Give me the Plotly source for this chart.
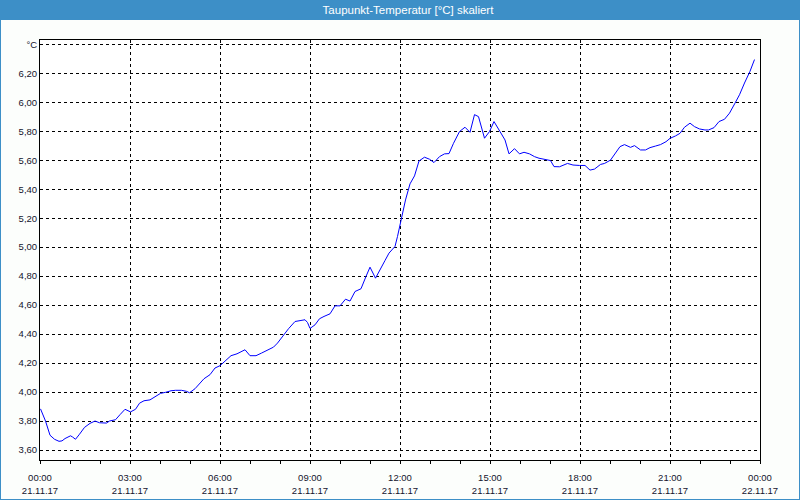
import plotly.graph_objects as go

# ---- data ----
times = ["00:01","00:11","00:20","00:29","00:38","00:44","00:50","01:01","01:05","01:11",
         "01:19","01:29","01:40","01:50","01:59","02:13","02:19","02:31","02:40","02:50",
         "03:01","03:11","03:19","03:28","03:40","03:49","04:01","04:11","04:22","04:31",
         "04:43","04:53","04:59","05:10","05:19","05:28","05:40","05:50","06:00","06:10",
         "06:22","06:34","06:43","06:50","07:00","07:12","07:23","07:34","07:47","07:55",
         "08:07","08:17","08:30","08:40","08:50","08:55","09:00","09:10","09:19","09:28",
         "09:40","09:50","10:00","10:11","10:20","10:30","10:42","10:52","11:00","11:11",
         "11:20","11:30","11:38","11:50","11:55","12:00","12:05","12:11","12:20","12:29",
         "12:38","12:49","12:59","13:08","13:19","13:29","13:38","13:47","13:59","14:10",
         "14:20","14:29","14:37","14:49","14:59","15:08","15:20","15:30","15:38","15:49",
         "15:59","16:08","16:19","16:29","16:38","16:52","17:01","17:08","17:19","17:35",
         "17:46","17:59","18:10","18:20","18:29","18:41","18:49","19:01","19:11","19:20",
         "19:29","19:41","19:49","20:01","20:11","20:20","20:31","20:41","20:52","21:00",
         "21:11","21:20","21:29","21:40","21:49","21:59","22:10","22:17","22:28","22:38",
         "22:49","22:59","23:10","23:19","23:29","23:40","23:49"]
values = [3.884,3.800,3.702,3.674,3.660,3.663,3.679,3.698,3.690,3.674,
          3.709,3.756,3.784,3.800,3.788,3.786,3.800,3.809,3.844,3.881,
          3.863,3.881,3.923,3.940,3.946,3.965,3.991,3.998,4.009,4.012,
          4.012,4.005,3.995,4.023,4.060,4.092,4.120,4.166,4.182,4.211,
          4.251,4.264,4.280,4.292,4.251,4.251,4.269,4.287,4.310,4.338,
          4.395,4.437,4.487,4.494,4.499,4.480,4.439,4.464,4.506,4.522,
          4.540,4.595,4.595,4.641,4.628,4.694,4.713,4.798,4.862,4.786,
          4.848,4.908,4.959,5.005,5.074,5.154,5.234,5.326,5.437,5.492,
          5.595,5.621,5.607,5.584,5.625,5.644,5.646,5.717,5.798,5.828,
          5.793,5.915,5.901,5.752,5.798,5.867,5.798,5.740,5.644,5.680,
          5.644,5.655,5.644,5.625,5.614,5.607,5.598,5.556,5.555,5.578,
          5.567,5.564,5.564,5.532,5.539,5.571,5.578,5.601,5.654,5.694,
          5.708,5.689,5.701,5.671,5.671,5.687,5.698,5.708,5.728,5.751,
          5.768,5.786,5.828,5.856,5.832,5.816,5.809,5.809,5.825,5.867,
          5.883,5.925,5.994,6.052,6.133,6.214,6.295]
day = "2017-11-21"
x_tick_vals = ["2017-11-21 00:00","2017-11-21 03:00","2017-11-21 06:00","2017-11-21 09:00",
               "2017-11-21 12:00","2017-11-21 15:00","2017-11-21 18:00","2017-11-21 21:00",
               "2017-11-22 00:00"]
x_tick_time = ["00:00","03:00","06:00","09:00","12:00","15:00","18:00","21:00","00:00"]
x_tick_date = ["21.11.17"]*8 + ["22.11.17"]
y_tick_vals = [3.6,3.8,4.0,4.2,4.4,4.6,4.8,5.0,5.2,5.4,5.6,5.8,6.0,6.2,6.4]
y_tick_text = ["3,60","3,80","4,00","4,20","4,40","4,60","4,80","5,00","5,20","5,40",
               "5,60","5,80","6,00","6,20","°C"]
title = "Taupunkt-Temperatur [°C] skaliert"

W, H = 800, 500
ML, MR, MT, MB = 40, 40, 40, 40
PW, PH = W - ML - MR, H - MT - MB
BLUE = "#3d8fc7"
TXT = "#14142e"
FONT = "Liberation Sans"

x = [f"{day} {t}" for t in times]

fig = go.Figure()
fig.add_trace(go.Scatter(x=x, y=values, mode="lines",
                         line=dict(color="#0000ff", width=1), xaxis="x", yaxis="y",
                         showlegend=False, hoverinfo="skip"))
# invisible trace for date-label axis
fig.add_trace(go.Scatter(x=[x_tick_vals[0], x_tick_vals[-1]], y=[4, 4], mode="lines",
                         line=dict(width=0), xaxis="x2", yaxis="y",
                         showlegend=False, hoverinfo="skip"))

xr = [x_tick_vals[0], x_tick_vals[-1]]
fig.update_layout(
    width=W, height=H,
    margin=dict(l=ML, r=MR, t=MT, b=MB, autoexpand=False),
    paper_bgcolor="#fcfefc", plot_bgcolor="white",
    font=dict(family=FONT, size=9.5, color=TXT),
    title=dict(text=title, x=408/W, xref="container", xanchor="center",
               y=1 - 10/H, yref="container", yanchor="middle",
               font=dict(family=FONT, size=11.5, color="white")),
    xaxis=dict(type="date", range=xr, tickvals=x_tick_vals, ticktext=x_tick_time,
               showgrid=True, gridcolor="black", griddash="3px,3px", gridwidth=1,
               showline=True, mirror=True, linecolor="black", linewidth=1,
               ticks="outside", ticklen=3, tickcolor="black", ticklabelstandoff=6,
               automargin=False,
               minor=dict(dtick=3600000, ticks="outside", ticklen=3, tickcolor="black", showgrid=False),
               zeroline=False, tickfont=dict(size=9.5, color=TXT)),
    xaxis2=dict(type="date", range=xr, overlaying="x", anchor="y", side="bottom",
                tickvals=x_tick_vals, ticktext=x_tick_date, showgrid=False, ticks="",
                showline=False, ticklabelstandoff=23, automargin=False,
                tickfont=dict(size=9.5, color=TXT)),
    yaxis=dict(range=[3.531, 6.43], tickvals=y_tick_vals, ticktext=y_tick_text,
               showgrid=True, gridcolor="black", griddash="3px,3px", gridwidth=1,
               showline=True, mirror=True, linecolor="black", linewidth=1,
               ticks="", zeroline=False, automargin=False, tickfont=dict(size=9.5, color=TXT)),
    shapes=[
        dict(type="rect", xref="paper", yref="paper", layer="below",
             x0=-ML/PW, x1=(PW+MR)/PW, y0=1 + (MT-20)/PH, y1=1 + MT/PH,
             fillcolor=BLUE, line=dict(width=0)),
        dict(type="rect", xref="paper", yref="paper", layer="below",
             x0=-ML/PW, x1=(PW+MR)/PW, y0=-MB/PH, y1=1 + MT/PH,
             fillcolor="rgba(0,0,0,0)", line=dict(color=BLUE, width=2)),
    ],
)
fig.write_html("out.html")
